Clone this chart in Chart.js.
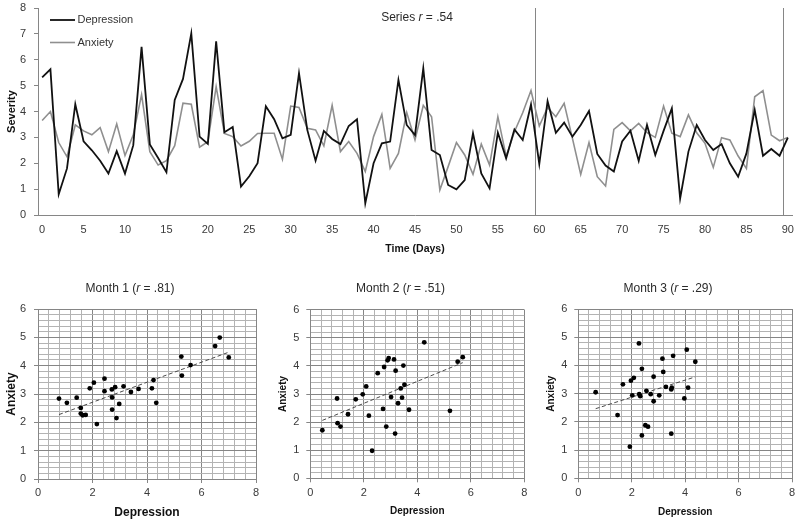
<!DOCTYPE html>
<html>
<head>
<meta charset="utf-8">
<script src="https://cdn.jsdelivr.net/npm/chart.js@4.4.1/dist/chart.umd.min.js"></script>
<style>
  body { margin: 0; background: #fff; }
  #wrap { position: relative; width: 800px; height: 523px; }
  canvas { position: absolute; }
</style>
</head>
<body>
<div id="wrap">
  <canvas id="series" width="800" height="258" style="left:0;top:0"></canvas>
  <canvas id="month1" width="268" height="263" style="left:0;top:260px"></canvas>
  <canvas id="month2" width="267" height="263" style="left:268px;top:260px"></canvas>
  <canvas id="month3" width="265" height="263" style="left:535px;top:260px"></canvas>
</div>
<script>
// Daily ratings, day 0 - 90
const days = Array.from({ length: 91 }, (_, i) => String(i));
const depression = [
  5.32, 5.63, 0.80, 1.80, 4.28, 2.85, 2.50, 2.10, 1.60, 2.47,
  1.60, 2.70, 6.50, 2.73, 2.20, 1.65, 4.45, 5.26, 7.02, 3.03,
  2.75, 6.71, 3.20, 3.40, 1.10, 1.50, 2.00, 4.20, 3.70, 2.96,
  3.10, 5.48, 3.29, 2.10, 3.25, 2.94, 2.74, 3.44, 3.70, 0.45,
  2.00, 2.77, 2.84, 5.22, 3.48, 3.09, 5.67, 2.51, 2.32, 1.16,
  0.99, 1.35, 3.16, 1.61, 1.03, 3.18, 2.19, 3.31, 2.90, 4.27,
  1.97, 4.40, 3.18, 3.57, 3.03, 3.48, 4.02, 2.36, 1.91, 1.68,
  2.84, 3.26, 2.09, 3.48, 2.32, 3.25, 4.12, 0.64, 2.45, 3.48,
  2.90, 2.51, 2.74, 2.00, 1.48, 2.38, 4.06, 2.29, 2.55, 2.29,
  2.99
];
const anxiety = [
  3.65, 4.00, 2.80, 2.25, 3.48, 3.25, 3.10, 3.38, 2.45, 3.52,
  2.30, 3.10, 4.65, 2.45, 1.93, 2.10, 2.68, 4.32, 4.28, 2.62,
  2.83, 4.96, 3.15, 3.03, 2.67, 2.85, 3.15, 3.16, 3.16, 2.15,
  4.21, 4.16, 3.35, 3.29, 2.67, 4.24, 2.45, 2.84, 2.38, 1.68,
  3.03, 3.89, 1.80, 2.38, 3.96, 2.90, 4.24, 3.80, 0.97, 1.87,
  2.80, 2.32, 1.57, 2.74, 1.93, 3.80, 2.26, 3.22, 3.95, 4.81,
  3.44, 4.16, 3.80, 4.32, 2.96, 1.57, 2.80, 1.48, 1.12, 3.31,
  3.57, 3.25, 3.54, 3.18, 3.00, 4.21, 3.16, 3.03, 3.87, 3.18,
  2.77, 1.84, 2.99, 2.90, 2.28, 1.80, 4.57, 4.81, 3.09, 2.87,
  3.00
];
const monthBreaks = [60, 90];   // grid lines drawn before these days

// Scatter points per month (depression, anxiety)
const month1Depression = [0.77, 1.06, 1.42, 1.57, 1.57, 1.64, 1.75, 1.90, 2.05, 2.16, 2.44, 2.44, 2.71, 2.72, 2.72,
  2.83, 2.88, 2.98, 3.14, 3.41, 3.69, 4.18, 4.24, 4.34, 5.26, 5.28, 5.60, 6.50, 6.67, 7.00];
const month1Anxiety = [2.84, 2.69, 2.87, 2.51, 2.31, 2.25, 2.26, 3.20, 3.40, 1.94, 3.54, 3.10, 3.16, 2.88, 2.45,
  3.24, 2.15, 2.65, 3.27, 3.07, 3.18, 3.20, 3.49, 2.69, 4.32, 3.65, 4.02, 4.69, 4.99, 4.29];

const month2Depression = [0.45, 1.00, 1.02, 1.13, 1.41, 1.70, 1.96, 2.09, 2.19, 2.31, 2.52, 2.72, 2.76, 2.84, 2.89,
  2.93, 3.02, 3.13, 3.17, 3.19, 3.28, 3.38, 3.43, 3.48, 3.52, 3.69, 4.26, 5.22, 5.51, 5.70];
const month2Anxiety = [1.71, 2.84, 1.96, 1.84, 2.28, 2.81, 2.99, 3.27, 2.23, 0.98, 3.74, 2.47, 3.96, 1.84, 4.20,
  4.28, 2.89, 4.23, 1.59, 3.83, 2.67, 3.20, 2.87, 4.01, 3.33, 2.44, 4.84, 2.40, 4.15, 4.31];

const month3Depression = [0.65, 1.47, 1.67, 1.93, 1.97, 2.02, 2.08, 2.27, 2.28, 2.32, 2.38, 2.38, 2.51, 2.55, 2.61,
  2.71, 2.82, 2.82, 3.03, 3.15, 3.18, 3.28, 3.48, 3.48, 3.50, 3.55, 3.97, 4.06, 4.11, 4.38];
const month3Anxiety = [3.05, 2.24, 3.33, 1.12, 3.46, 2.94, 3.56, 4.78, 2.98, 2.91, 3.88, 1.52, 1.88, 3.10, 1.83,
  2.98, 3.60, 2.73, 2.94, 4.24, 3.77, 3.24, 1.58, 3.15, 3.21, 4.34, 2.83, 4.56, 3.21, 4.13];

const FONT = '"Liberation Sans", Arial, sans-serif';
const AXIS = '#868686';
const MAJOR = '#858585';
const MINOR = '#b3b3b3';
const TICK_TEXT = '#3a3a3a';

Chart.defaults.font.family = FONT;
Chart.defaults.color = TICK_TEXT;

// title with an italic r, drawn on the canvas
function titlePlugin(x, y, parts) {
  return {
    id: 'richTitle',
    afterDraw(chart) {
      const ctx = chart.ctx;
      ctx.save();
      ctx.fillStyle = '#2a2a2a';
      ctx.textBaseline = 'middle';
      ctx.textAlign = 'left';
      const fonts = parts.map(p => (p[1] ? 'italic ' : '') + '12px ' + FONT);
      const widths = parts.map((p, i) => { ctx.font = fonts[i]; return ctx.measureText(p[0]).width; });
      let cx = x - widths.reduce((a, b) => a + b, 0) / 2;
      parts.forEach((p, i) => {
        ctx.font = fonts[i];
        ctx.fillText(p[0], cx, y);
        cx += widths[i];
      });
      ctx.restore();
    }
  };
}

// small legend in the top left corner of the plot
const cornerLegend = {
  id: 'cornerLegend',
  afterDraw(chart) {
    const ctx = chart.ctx;
    const x0 = chart.chartArea.left + 12;
    ctx.save();
    ctx.font = '11px ' + FONT;
    ctx.textBaseline = 'middle';
    ctx.textAlign = 'left';
    chart.data.datasets.forEach((ds, i) => {
      const y = 20 + i * 22.5;
      ctx.strokeStyle = ds.borderColor;
      ctx.lineWidth = ds.borderWidth;
      ctx.beginPath();
      ctx.moveTo(x0, y);
      ctx.lineTo(x0 + 25, y);
      ctx.stroke();
      ctx.fillStyle = '#333';
      ctx.fillText(ds.label, x0 + 27.5, y);
    });
    ctx.restore();
  }
};

// Top: daily time series
new Chart(document.getElementById('series'), {
  type: 'line',
  data: {
    labels: days,
    datasets: [
      { label: 'Depression', data: depression, borderColor: '#111', backgroundColor: '#111',
        borderWidth: 1.8, pointRadius: 0, pointHoverRadius: 0, tension: 0 },
      { label: 'Anxiety', data: anxiety, borderColor: '#8f8f8f', backgroundColor: '#8f8f8f',
        borderWidth: 1.6, pointRadius: 0, pointHoverRadius: 0, tension: 0 }
    ]
  },
  options: {
    responsive: false,
    animation: false,
    devicePixelRatio: 1,
    layout: { padding: { top: 8, right: 8, left: 0, bottom: 0 } },
    plugins: {
      tooltip: { enabled: false },
      legend: { display: false }
    },
    scales: {
      x: {
        type: 'category',
        offset: true,
        afterFit: s => { s.height = 43; },
        grid: {
          offset: true,
          drawOnChartArea: true,
          color: c => monthBreaks.includes(c.index) ? AXIS : 'transparent',
          tickColor: 'transparent',
          tickLength: 4
        },
        border: { color: AXIS },
        ticks: {
          autoSkip: false,
          maxRotation: 0,
          padding: 4,
          font: { size: 11 },
          callback: (v, i) => (i % 5 === 0 ? days[i] : '')
        },
        title: {
          display: true,
          text: 'Time (Days)',
          color: '#111',
          font: { size: 10.5, weight: 'bold' },
          padding: { top: 0, bottom: 2.4 }
        }
      },
      y: {
        min: 0,
        max: 8,
        afterFit: s => { s.width = 38; s.paddingTop = 6; },
        grid: { drawOnChartArea: false, tickLength: 4, tickColor: AXIS },
        border: { color: AXIS },
        ticks: { stepSize: 1, padding: 8, font: { size: 11 } },
        title: {
          display: true,
          text: 'Severity',
          color: '#111',
          font: { size: 11, weight: 'bold' },
          padding: { top: 5.4, bottom: 0 }
        }
      }
    }
  },
  plugins: [cornerLegend, titlePlugin(417, 17.5, [['Series ', false], ['r', true], [' = .54', false]])]
});

// least squares line through a month's points
function trend(xs, ys) {
  const n = xs.length;
  const mx = xs.reduce((a, b) => a + b, 0) / n;
  const my = ys.reduce((a, b) => a + b, 0) / n;
  let sxy = 0, sxx = 0;
  xs.forEach((x, i) => { sxy += (x - mx) * (ys[i] - my); sxx += (x - mx) * (x - mx); });
  const b = sxy / sxx;
  const a = my - b * mx;
  const lo = Math.min(...xs), hi = Math.max(...xs);
  return [{ x: lo, y: a + b * lo }, { x: hi, y: a + b * hi }];
}

const isInt = v => Math.abs(v - Math.round(v)) < 1e-6;
const isMajorX = v => isInt(v) && Math.round(v) % 2 === 0;

function monthChart(id, name, r, dep, anx, g) {
  return new Chart(document.getElementById(id), {
    type: 'scatter',
    data: {
      datasets: [
        { data: dep.map((d, i) => ({ x: d, y: anx[i] })), backgroundColor: '#000',
          borderWidth: 0, pointRadius: 2.4, pointHoverRadius: 0 },
        { data: trend(dep, anx), showLine: true, pointRadius: 0, pointHoverRadius: 0,
          borderColor: '#4a4a4a', borderWidth: 1, borderDash: [4, 2.5] }
      ]
    },
    options: {
      responsive: false,
      animation: false,
      devicePixelRatio: 1,
      layout: { padding: { top: g.top, right: g.right, left: 0, bottom: 0 } },
      plugins: { legend: { display: false }, tooltip: { enabled: false } },
      scales: {
        x: {
          type: 'linear',
          min: 0,
          max: 8,
          afterFit: s => { s.height = g.xh; },
          grid: {
            color: c => isMajorX(c.tick.value) ? MAJOR : MINOR,
            tickColor: c => isMajorX(c.tick.value) ? AXIS : 'transparent',
            tickLength: 4
          },
          border: { color: AXIS },
          ticks: {
            stepSize: 0.4,
            autoSkip: false,
            maxRotation: 0,
            padding: g.xpad,
            font: { size: 11 },
            callback: v => (isMajorX(v) ? String(Math.round(v)) : '')
          },
          title: {
            display: true,
            text: 'Depression',
            color: '#111',
            font: { size: g.ts, weight: 'bold' },
            padding: { top: 0, bottom: g.xtp }
          }
        },
        y: {
          min: 0,
          max: 6,
          afterFit: s => { s.width = g.yw; },
          grid: {
            color: c => isInt(c.tick.value) ? MAJOR : MINOR,
            tickColor: c => isInt(c.tick.value) ? AXIS : 'transparent',
            tickLength: 4
          },
          border: { color: AXIS },
          ticks: {
            stepSize: 0.2,
            autoSkip: false,
            padding: g.ypad,
            font: { size: 11 },
            callback: v => (isInt(v) ? String(Math.round(v)) : '')
          },
          title: {
            display: true,
            text: 'Anxiety',
            color: '#111',
            font: { size: g.ts, weight: 'bold' },
            padding: { top: g.ytp, bottom: 0 }
          }
        }
      }
    },
    plugins: [titlePlugin(g.tx, g.ty, [[name + ' (', false], ['r', true], [' = ' + r + ')', false]])]
  });
}

monthChart('month1', 'Month 1', '.81', month1Depression, month1Anxiety,
  { top: 49, right: 12, yw: 38, xh: 44, xpad: 3.7, ypad: 8, ts: 12, xtp: 3.5, ytp: 4.5, tx: 130, ty: 28.3 });
monthChart('month2', 'Month 2', '.51', month2Depression, month2Anxiety,
  { top: 49.7, right: 10.7, yw: 42.3, xh: 44.7, xpad: 4.4, ypad: 7, ts: 10, xtp: 5.3, ytp: 9.3, tx: 132.5, ty: 29 });
monthChart('month3', 'Month 3', '.29', month3Depression, month3Anxiety,
  { top: 49, right: 8, yw: 43.3, xh: 44.7, xpad: 4.4, ypad: 7, ts: 10, xtp: 4.7, ytp: 10.7, tx: 133, ty: 28.5 });
</script>
</body>
</html>
